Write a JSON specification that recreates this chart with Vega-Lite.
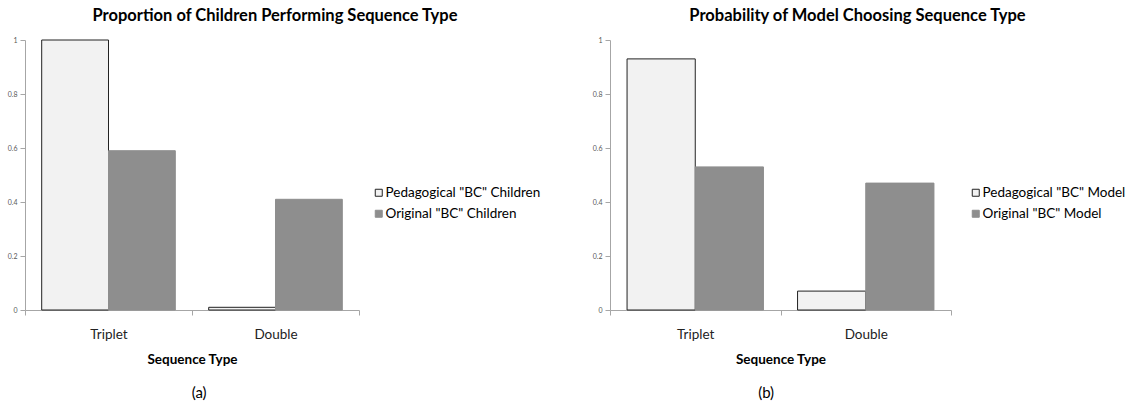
{
  "$schema": "https://vega.github.io/schema/vega-lite/v6.json",
  "background": "white",
  "padding": {"left": 7, "top": 7, "right": 0, "bottom": 0},
  "config": {
    "font": "Lato",
    "view": {"stroke": null},
    "title": {"font": "Lato", "fontSize": 16.5, "fontWeight": "bold", "color": "#000000"},
    "axis": {"grid": false, "domainColor": "#a6a6a6", "tickColor": "#a6a6a6", "labelFont": "Lato", "titleFont": "Lato"},
    "legend": {"labelFont": "Lato"}
  },
  "datasets": {
    "children": [
      {"type": "Triplet", "group": "Pedagogical \"BC\" Children", "value": 1.0},
      {"type": "Triplet", "group": "Original \"BC\" Children", "value": 0.59},
      {"type": "Double", "group": "Pedagogical \"BC\" Children", "value": 0.01},
      {"type": "Double", "group": "Original \"BC\" Children", "value": 0.41}
    ],
    "model": [
      {"type": "Triplet", "group": "Pedagogical \"BC\" Model", "value": 0.93},
      {"type": "Triplet", "group": "Original \"BC\" Model", "value": 0.53},
      {"type": "Double", "group": "Pedagogical \"BC\" Model", "value": 0.07},
      {"type": "Double", "group": "Original \"BC\" Model", "value": 0.47}
    ]
  },
  "spacing": 51,
  "resolve": {"scale": {"x": "independent", "y": "independent", "xOffset": "independent", "color": "independent", "stroke": "independent"}, "legend": {"color": "independent", "stroke": "independent"}},
  "hconcat": [
    {
      "title": {"text": "(a)", "orient": "bottom", "anchor": "middle", "fontWeight": "normal", "fontSize": 15, "offset": 20, "dx": -75},
      "vconcat": [
        {
          "width": 334,
          "height": 270,
          "title": {"text": "Proportion of Children Performing Sequence Type", "dx": 83, "offset": 12},
          "data": {"name": "children"},
          "mark": {"type": "bar", "strokeWidth": 1},
          "encoding": {
            "x": {"field": "type", "type": "nominal", "sort": ["Triplet", "Double"],
              "scale": {"paddingInner": 0, "paddingOuter": 0},
              "axis": {"title": "Sequence Type", "labelAngle": 0, "tickBand": "extent", "tickSize": 5, "labelPadding": 12, "labelFontSize": 13.5, "labelColor": "#222222", "titleFontSize": 13.5, "titleFontWeight": "bold", "titleColor": "#000000", "titlePadding": 12}},
            "xOffset": {"field": "group", "type": "nominal", "sort": ["Pedagogical \"BC\" Children", "Original \"BC\" Children"],
              "scale": {"paddingInner": 0, "paddingOuter": 0.25}},
            "y": {"field": "value", "type": "quantitative", "scale": {"domain": [0, 1]},
              "axis": {"title": null, "values": [0, 0.2, 0.4, 0.6, 0.8, 1], "format": "~g", "labelFontSize": 7, "labelColor": "#595959", "tickSize": 5, "labelPadding": 3}},
            "color": {"field": "group", "type": "nominal",
              "scale": {"domain": ["Pedagogical \"BC\" Children", "Original \"BC\" Children"], "range": ["#f2f2f2", "#8e8e8e"]},
              "legend": {"title": null, "orient": "none", "legendX": 347, "legendY": 146, "symbolType": "square", "symbolSize": 49, "symbolStrokeWidth": 1, "labelFontSize": 13.5, "labelColor": "#000000", "labelOffset": 0, "rowPadding": 6, "padding": 0}},
            "stroke": {"field": "group", "type": "nominal",
              "scale": {"domain": ["Pedagogical \"BC\" Children", "Original \"BC\" Children"], "range": ["#222222", "#8e8e8e"]},
              "legend": {"title": null, "orient": "none", "legendX": 347, "legendY": 146, "symbolType": "square", "symbolSize": 49, "symbolStrokeWidth": 1, "labelFontSize": 13.5, "labelColor": "#000000", "labelOffset": 0, "rowPadding": 6, "padding": 0}}
          }
        }
      ]
    },
    {
      "title": {"text": "(b)", "orient": "bottom", "anchor": "middle", "fontWeight": "normal", "fontSize": 15, "offset": 20, "dx": -93},
      "vconcat": [
        {
          "width": 341,
          "height": 270,
          "title": {"text": "Probability of Model Choosing Sequence Type", "dx": 77, "offset": 12},
          "data": {"name": "model"},
          "mark": {"type": "bar", "strokeWidth": 1},
          "encoding": {
            "x": {"field": "type", "type": "nominal", "sort": ["Triplet", "Double"],
              "scale": {"paddingInner": 0, "paddingOuter": 0},
              "axis": {"title": "Sequence Type", "labelAngle": 0, "tickBand": "extent", "tickSize": 5, "labelPadding": 12, "labelFontSize": 13.5, "labelColor": "#222222", "titleFontSize": 13.5, "titleFontWeight": "bold", "titleColor": "#000000", "titlePadding": 12}},
            "xOffset": {"field": "group", "type": "nominal", "sort": ["Pedagogical \"BC\" Model", "Original \"BC\" Model"],
              "scale": {"paddingInner": 0, "paddingOuter": 0.25}},
            "y": {"field": "value", "type": "quantitative", "scale": {"domain": [0, 1]},
              "axis": {"title": null, "values": [0, 0.2, 0.4, 0.6, 0.8, 1], "format": "~g", "labelFontSize": 7, "labelColor": "#595959", "tickSize": 5, "labelPadding": 3}},
            "color": {"field": "group", "type": "nominal",
              "scale": {"domain": ["Pedagogical \"BC\" Model", "Original \"BC\" Model"], "range": ["#f2f2f2", "#8e8e8e"]},
              "legend": {"title": null, "orient": "none", "legendX": 359, "legendY": 146, "symbolType": "square", "symbolSize": 49, "symbolStrokeWidth": 1, "labelFontSize": 13.5, "labelColor": "#000000", "labelOffset": 0, "rowPadding": 6, "padding": 0}},
            "stroke": {"field": "group", "type": "nominal",
              "scale": {"domain": ["Pedagogical \"BC\" Model", "Original \"BC\" Model"], "range": ["#222222", "#8e8e8e"]},
              "legend": {"title": null, "orient": "none", "legendX": 359, "legendY": 146, "symbolType": "square", "symbolSize": 49, "symbolStrokeWidth": 1, "labelFontSize": 13.5, "labelColor": "#000000", "labelOffset": 0, "rowPadding": 6, "padding": 0}}
          }
        }
      ]
    }
  ]
}
